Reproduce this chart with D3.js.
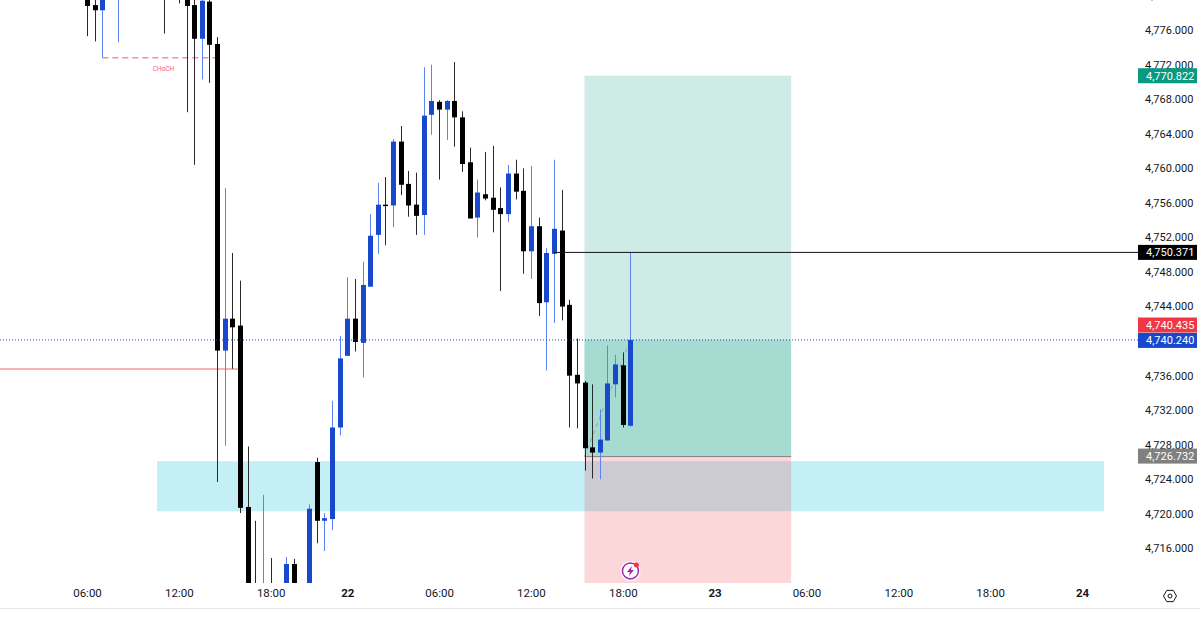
<!DOCTYPE html>
<html>
<head>
<meta charset="utf-8" />
<script src="https://cdn.jsdelivr.net/npm/d3@7"></script>
<style>
  html, body { margin: 0; padding: 0; background: #fff; }
  text { font-family: Roboto, "Liberation Sans", sans-serif; }
</style>
</head>
<body>
<div id="chart"></div>
<script>
// candle index, null = candle is fully outside the visible window
const candleIndex = d3.range(72);
const opens = [4780.2,4779.0,4778.4,null,4781,null,null,null,null,null,4783,null,4782,4781,4779.0,4775.1,4779.4,4774.5,4739.0,4742.7,4741.9,4720.9,4710,4705,4710,null,4708,4714.3,null,4709,4726.1,4719.3,4719.5,4730.1,4738.4,4742.7,4739.9,4746.4,4752.4,4755.9,4755.8,4763.2,4758.3,4755.9,4754.7,4766.3,4767.8,4766.9,4767.9,4766.0,4760.8,4754.4,4757.1,4756.7,4755.5,4754.8,4759.5,4757.5,4750.5,4753.4,4744.6,4750.2,4752.9,4744.3,4736.2,4735.3,4727.8,4727.2,4728.6,4735.1,4737.3,4730.3];
const highs = [4781.5,4780.5,4781.0,null,4783,null,null,null,null,null,4784,null,4783,4782,4781,4780.5,4780.0,4775.3,4757.8,4750.3,4747.1,4727.9,4719.3,4722.3,4715,null,4715.1,4714.9,null,4721.2,4726.6,4720.2,4733.2,4740.7,4747.5,4747.3,4749.3,4754.8,4758.4,4759.1,4763.5,4765.0,4759.8,4759.6,4771.8,4772.1,4768.0,4768.0,4772.4,4766.7,4762.5,4758.8,4762.0,4762.7,4757.9,4760.5,4761.1,4760.1,4760.4,4754.4,4750.9,4761.1,4757.6,4744.9,4740.4,4735.5,4735.1,4732.2,4739.6,4738.5,4738.8,4750.371];
const lows = [4775.4,4774.8,4772.9,null,4774.7,null,null,null,null,null,4775.7,null,4779.2,4766.6,4760.5,4770.4,4770.0,4723.8,4728.0,4736.9,4720.2,4708,4705,4703,4704,null,4706,4706,null,4707,4716.7,4715.8,4718.2,4729.2,4738.4,4738.9,4735.9,4746.4,4750.2,4751.2,4753.3,4757.0,4754.5,4752.4,4752.4,4764.0,4758.8,4763.4,4762.6,4759.7,4754.3,4752.1,4756.4,4752.7,4745.9,4753.9,4756.5,4747.9,4747.3,4743.0,4736.7,4742.2,4742.5,4730.1,4730.0,4725.1,4724.2,4724.1,4728.6,4733.6,4730.1,4730.2];
const closes = [4778.9,4778.4,4780.2,null,4782,null,null,null,null,null,4781,null,4780.5,4778.9,4775.1,4779.5,4774.4,4739.0,4742.7,4741.7,4720.8,4710,4707,4709,4706,null,4714.3,4708,null,4720.7,4719.3,4719.6,4730.1,4738.1,4742.7,4740.0,4746.6,4752.3,4755.9,4755.8,4763.2,4758.2,4755.8,4754.6,4766.2,4767.9,4766.9,4767.9,4766.0,4760.6,4754.3,4757.3,4756.6,4755.3,4754.8,4759.5,4757.4,4750.5,4753.4,4744.5,4750.3,4753.1,4744.1,4736.1,4735.2,4727.7,4727.2,4728.7,4735.2,4737.4,4730.4,4740.24];

const priceTicks = d3.range(4716, 4784, 4);
const timeTickIndex = [0, 12, 24, 34, 46, 58, 70, 82, 94, 106, 118, 130];
const timeTickLabels = ["06:00", "12:00", "18:00", "22", "06:00", "12:00", "18:00", "23", "06:00", "12:00", "18:00", "24"];

const positionStart = 65;
const positionEnd = 92;
const takeProfit = 4770.822;
const lastPrice = 4740.24;
const askPrice = 4740.435;
const entryPrice = 4726.732;
const stopPrice = 4700;
const swingPrice = 4750.371;
const zoneTop = 4726.2;
const zoneBottom = 4720.4;
const zoneStart = 9.15;
const zoneEnd = 132.87;
const chochPrice = 4772.9;
const redLevel = 4736.87;
const redLevelEnd = 19.7;

const width = 1200;
const height = 618;
const plotBottom = 583;
const axisLeft = 1138;

const svg = d3
  .select("#chart")
  .append("svg")
  .attr("width", width)
  .attr("height", height)
  .style("display", "block");

const x = d3.scaleLinear().domain([0, 130]).range([87, 1082]);
const y = d3.scaleLinear().domain([4776, 4716]).range([31, 549.3]);

svg
  .append("clipPath")
  .attr("id", "plot-clip")
  .append("rect")
  .attr("width", axisLeft)
  .attr("height", plotBottom);

const plot = svg.append("g").attr("clip-path", "url(#plot-clip)");

// supply/demand zone
plot
  .append("rect")
  .attr("x", x(zoneStart))
  .attr("y", y(zoneTop))
  .attr("width", x(zoneEnd) - x(zoneStart))
  .attr("height", y(zoneBottom) - y(zoneTop))
  .attr("fill", "rgba(0,188,212,0.23)");

// long position boxes
const green = "rgba(8,153,129,0.2)";
const posX = x(positionStart);
const posW = x(positionEnd) - x(positionStart);
plot.append("rect").attr("x", posX).attr("y", y(takeProfit)).attr("width", posW)
  .attr("height", y(entryPrice) - y(takeProfit)).attr("fill", green);
plot.append("rect").attr("x", posX).attr("y", y(lastPrice)).attr("width", posW)
  .attr("height", y(entryPrice) - y(lastPrice)).attr("fill", green);
plot.append("rect").attr("x", posX).attr("y", y(entryPrice)).attr("width", posW)
  .attr("height", y(stopPrice) - y(entryPrice)).attr("fill", "rgba(242,54,69,0.2)");
plot.append("line").attr("x1", posX).attr("x2", posX + posW)
  .attr("y1", y(entryPrice)).attr("y2", y(entryPrice))
  .attr("stroke", "#8a7f7f").attr("stroke-width", 1);
plot.append("line").attr("x1", posX).attr("x2", x(71))
  .attr("y1", y(entryPrice)).attr("y2", y(lastPrice))
  .attr("stroke", "#9a9ea6").attr("stroke-width", 1).attr("stroke-dasharray", "4 4");

// horizontal levels
plot.append("line").attr("x1", 0).attr("x2", x(redLevelEnd))
  .attr("y1", y(redLevel)).attr("y2", y(redLevel))
  .attr("stroke", "#f0616d").attr("stroke-width", 1);
plot.append("line").attr("x1", x(2)).attr("x2", x(17))
  .attr("y1", y(chochPrice)).attr("y2", y(chochPrice))
  .attr("stroke", "#f98d97").attr("stroke-width", 1.4).attr("stroke-dasharray", "6 4");
plot.append("text").attr("x", x(10)).attr("y", y(chochPrice) + 13)
  .attr("text-anchor", "middle").attr("font-size", 6.5).attr("fill", "#f5606d").text("CHoCH");

// candles
const candles = candleIndex
  .map((i) => ({ i, open: opens[i], high: highs[i], low: lows[i], close: closes[i] }))
  .filter((d) => d.open !== null);
const isUp = (d) => d.close >= d.open;

const candle = plot.append("g").selectAll("g").data(candles).enter().append("g");
candle
  .append("rect")
  .attr("x", (d) => Math.round(x(d.i)))
  .attr("y", (d) => y(d.high))
  .attr("width", 1)
  .attr("height", (d) => y(d.low) - y(d.high))
  .attr("fill", (d) => (isUp(d) ? "#5a84f2" : "#2a2a2a"));
candle
  .append("rect")
  .attr("x", (d) => Math.round(x(d.i)) - 2)
  .attr("y", (d) => y(Math.max(d.open, d.close)))
  .attr("width", 5)
  .attr("height", (d) => Math.max(1.5, Math.abs(y(d.open) - y(d.close))))
  .attr("fill", (d) => (isUp(d) ? "#1848cc" : "#000"));

plot.append("line").attr("x1", x(61)).attr("x2", axisLeft)
  .attr("y1", y(swingPrice)).attr("y2", y(swingPrice))
  .attr("stroke", "#111").attr("stroke-width", 1);
plot.append("line").attr("x1", 0).attr("x2", axisLeft)
  .attr("y1", y(lastPrice)).attr("y2", y(lastPrice))
  .attr("stroke", "#1848cc").attr("stroke-width", 1).attr("stroke-dasharray", "1 2");

// lightning badge under the last candle
const badge = svg.append("g").attr("transform", `translate(${x(71)},${y(4713.5)})`);
badge.append("circle").attr("r", 10).attr("fill", "#fff");
badge.append("circle").attr("r", 8).attr("fill", "#fff").attr("stroke", "#9c27b0").attr("stroke-width", 1.5);
badge.append("path").attr("d", "M1.5,-5 L-3.5,1 L-0.5,1 L-1.5,5 L3.5,-1 L0.5,-1 Z").attr("fill", "#9c27b0");
badge.append("circle").attr("cx", 6).attr("cy", -6).attr("r", 2.5).attr("fill", "#f23645");

// price axis
const priceAxis = svg
  .append("g")
  .attr("transform", "translate(1145,-1)")
  .call(d3.axisRight(y).tickValues(priceTicks).tickSize(0).tickPadding(0).tickFormat(d3.format(",.3f")));
priceAxis.select(".domain").remove();
priceAxis.selectAll("text").attr("font-size", 11).attr("font-family", "Roboto").attr("fill", "#131722");

// price tags, ask sits right above the last price
const tagPrices = [takeProfit, swingPrice, askPrice, lastPrice, entryPrice];
const tagColors = ["#089981", "#000000", "#f23645", "#1848cc", "#808080"];
const tagCenters = [y(takeProfit), y(swingPrice), y(askPrice) - 13.2, y(lastPrice) + 0.5, y(entryPrice) - 0.5];
const tags = svg.append("g").selectAll("g").data(tagPrices).enter().append("g")
  .attr("transform", (d, i) => `translate(${axisLeft},${tagCenters[i]})`);
tags.append("rect").attr("y", -7.5).attr("width", 59).attr("height", 15).attr("fill", (d, i) => tagColors[i]);
tags.append("text").attr("x", 8).attr("dy", "0.35em").attr("font-size", 11).attr("fill", "#fff")
  .text((d) => d3.format(",.3f")(d));

// time axis
const timeAxis = svg
  .append("g")
  .attr("transform", `translate(0,${plotBottom + 6})`)
  .call(
    d3.axisBottom(x).tickValues(timeTickIndex).tickSize(0).tickPadding(0)
      .tickFormat((d, i) => timeTickLabels[i])
  );
timeAxis.select(".domain").remove();
timeAxis.selectAll("text")
  .attr("font-size", 11.5)
  .attr("font-family", "Roboto")
  .attr("fill", "#131722")
  .attr("font-weight", (d, i) => (timeTickLabels[i].length === 2 ? 700 : 400));

svg.append("line").attr("x1", 0).attr("x2", width).attr("y1", 608.5).attr("y2", 608.5)
  .attr("stroke", "#e6e8ee").attr("stroke-width", 1);

// settings gear
const gear = svg.append("g").attr("transform", "translate(1170,596)");
const hexPoints = d3.range(6).map((k) => {
  const a = (Math.PI / 3) * k;
  return [6.5 * Math.cos(a), 6.5 * Math.sin(a)];
});
gear.append("path").attr("d", d3.line()(hexPoints) + "Z").attr("fill", "none").attr("stroke", "#131722").attr("stroke-width", 1);
gear.append("circle").attr("r", 2).attr("fill", "none").attr("stroke", "#131722").attr("stroke-width", 1);
</script>
</body>
</html>
